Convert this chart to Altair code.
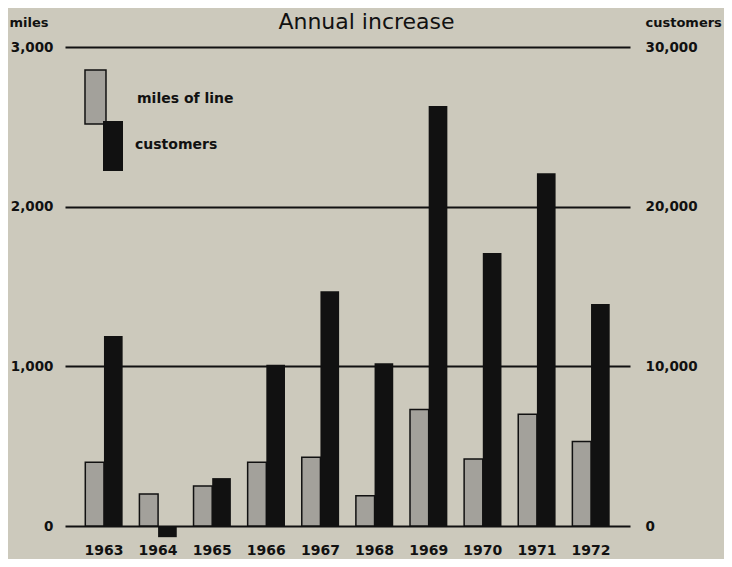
import altair as alt
import pandas as pd

years = ["1963", "1964", "1965", "1966", "1967", "1968", "1969", "1970", "1971", "1972"]
miles = [400, 200, 250, 400, 430, 190, 730, 420, 700, 530]
customers = [11900, -700, 3000, 10100, 14700, 10200, 26300, 17100, 22100, 13900]
miles_ticks = [0, 1000, 2000, 3000]
customer_ticks = [0, 10000, 20000, 30000]
series_names = ["miles of line", "customers"]

rows = []
for y, m, c in zip(years, miles, customers):
    rows.append({"year": y, "series": series_names[0], "value": m})
    rows.append({"year": y, "series": series_names[1], "value": c})
df = pd.DataFrame(rows)

FONT = "DejaVu Sans"
INK = "#111111"
GRAY = "#a3a19b"

x_enc = alt.X(
    "year:N",
    sort=years,
    scale=alt.Scale(paddingInner=0.31, paddingOuter=0.375),
    axis=alt.Axis(title=None, labelAngle=0, domain=False, ticks=False,
                  labelPadding=17, labelFont=FONT, labelFontSize=14,
                  labelFontWeight="bold", labelColor=INK),
)
xo = alt.XOffset("series:N", scale=alt.Scale(domain=series_names))

num_axis = dict(domain=False, ticks=False, labelFont=FONT,
                labelFontSize=13.5, labelFontWeight="bold", labelColor=INK,
                format=",d", titleAngle=0, titleFont=FONT, titleFontSize=13,
                titleFontWeight="bold", titleColor=INK, titleAlign="left",
                titleBaseline="alphabetic", titleY=-21)

legend_common = dict(orient="none", title=None, labelFont=FONT, labelFontSize=14,
                     labelFontWeight="bold", labelColor=INK, symbolSize=3600,
                     labelOffset=1, padding=0)

gray = alt.Chart(df).transform_filter(
    alt.datum.series == series_names[0]
).mark_bar(stroke=INK, strokeWidth=1.5, clip=False).encode(
    x=x_enc,
    xOffset=xo,
    y=alt.Y("value:Q",
            scale=alt.Scale(domain=[0, 3000], nice=False),
            axis=alt.Axis(orient="left", values=miles_ticks, grid=True,
                          gridColor=INK, gridWidth=2, title="miles",
                          titleX=-56, labelPadding=12, **num_axis)),
    color=alt.Color("series:N",
                    scale=alt.Scale(domain=[series_names[0]], range=[GRAY]),
                    legend=alt.Legend(legendX=9, legendY=21,
                                      symbolType="M-0.667,-0.967 L0.033,-0.967 L0.033,0.833 L-0.667,0.833 Z",
                                      symbolStrokeColor=INK, symbolStrokeWidth=1.5,
                                      **legend_common)),
)

black = alt.Chart(df).transform_filter(
    alt.datum.series == series_names[1]
).mark_bar(color=INK, clip=False).encode(
    x=x_enc,
    xOffset=xo,
    y=alt.Y("value:Q",
            scale=alt.Scale(domain=[0, 30000], nice=False),
            axis=alt.Axis(orient="right", values=customer_ticks, grid=False,
                          title="customers", titleX=15, labelPadding=15,
                          **num_axis)),
    color=alt.Color("series:N",
                    scale=alt.Scale(domain=[series_names[1]], range=[INK]),
                    legend=alt.Legend(legendX=9, legendY=68,
                                      symbolType="M-0.033,-0.8 L0.633,-0.8 L0.633,0.867 L-0.033,0.867 Z",
                                      symbolStrokeWidth=0,
                                      **legend_common)),
)

chart = alt.layer(gray, black).resolve_scale(
    y="independent", color="independent"
).properties(
    width=565,
    height=479,
    title=alt.TitleParams("Annual increase", font=FONT, fontSize=22,
                          fontWeight="normal", color=INK, anchor="middle",
                          dx=19, offset=-18),
    autosize=alt.AutoSizeParams(type="none"),
    padding={"left": 57, "top": 39, "right": 94, "bottom": 33},
).configure(background="#ccc9bc").configure_view(stroke=None)

chart.save("out.html", embed_options={"renderer": "svg", "actions": False})
